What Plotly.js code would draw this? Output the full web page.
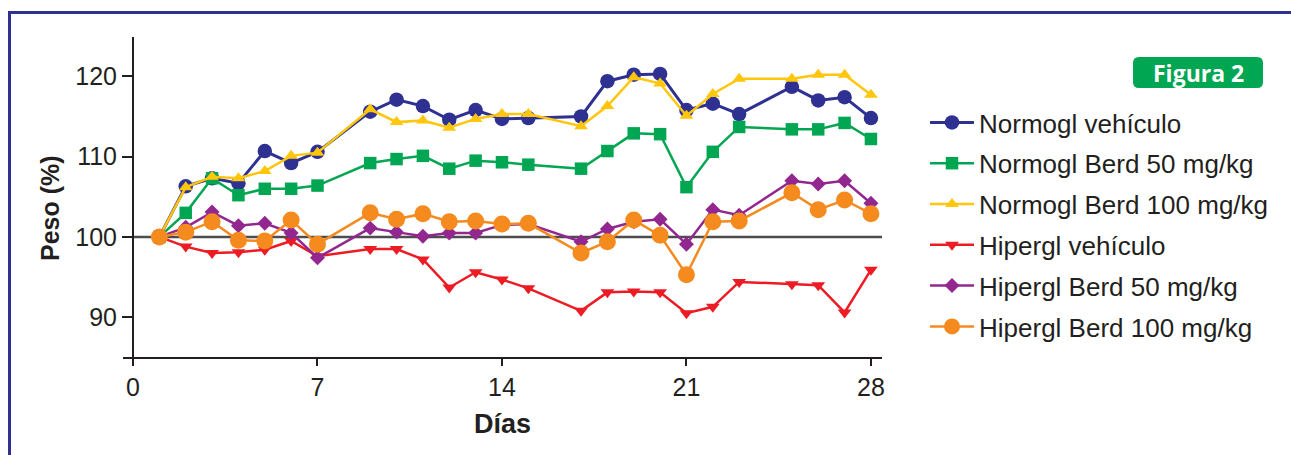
<!DOCTYPE html>
<html>
<head>
<meta charset="utf-8">
<script src="https://cdn.plot.ly/plotly-3.0.1.min.js"></script>
<style>
html,body{margin:0;padding:0;background:#fff;}
#chart{width:1291px;height:455px;}
</style>
</head>
<body>
<div id="chart"></div>
<script>
// ---- data ----
var days = [1,2,3,4,5,6,7,9,10,11,12,13,14,15,17,18,19,20,21,22,23,25,26,27,28];
var normoglVehiculo = [100,106.3,107.3,106.7,110.7,109.2,110.6,115.6,117.1,116.3,114.6,115.8,114.7,114.8,115.0,119.4,120.2,120.3,115.8,116.6,115.3,118.7,117.0,117.4,114.8];
var normoglBerd50 = [100,103.0,107.3,105.2,106.0,106.0,106.4,109.2,109.7,110.1,108.5,109.5,109.3,109.0,108.5,110.7,112.9,112.8,106.2,110.6,113.7,113.4,113.4,114.2,112.2];
var normoglBerd100 = [100,106.2,107.5,107.3,108.2,110.1,110.5,115.9,114.3,114.5,113.6,114.7,115.3,115.3,113.8,116.3,119.9,119.1,115.1,117.8,119.7,119.7,120.2,120.2,117.7];
var hiperglVehiculo = [100,98.8,98.0,98.1,98.4,99.5,97.6,98.5,98.5,97.2,93.7,95.6,94.7,93.6,90.8,93.1,93.2,93.1,90.5,91.3,94.4,94.1,94.0,90.6,95.9];
var hiperglBerd50 = [100,101.2,103.1,101.4,101.7,100.5,97.4,101.1,100.6,100.1,100.5,100.5,101.5,101.6,99.4,101.0,101.9,102.2,99.1,103.4,102.7,107.0,106.6,107.0,104.2];
var hiperglBerd100 = [100,100.6,101.9,99.6,99.5,102.1,99.1,103.0,102.2,102.9,101.9,102.0,101.6,101.7,98.0,99.4,102.1,100.2,95.3,101.9,102.0,105.5,103.4,104.6,102.9];
var seriesNames = ["Normogl vehículo","Normogl Berd 50 mg/kg","Normogl Berd 100 mg/kg","Hipergl vehículo","Hipergl Berd 50 mg/kg","Hipergl Berd 100 mg/kg"];
var xTicks = [0,7,14,21,28];
var yTicks = [90,100,110,120];
var xTitle = "Días";
var yTitle = "Peso (%)";
var badgeText = "Figura 2";

// ---- styles ----
var seriesValues = [normoglVehiculo, normoglBerd50, normoglBerd100, hiperglVehiculo, hiperglBerd50, hiperglBerd100];
var colors = ["#2e3192","#00a651","#ffc60b","#ed1c24","#92278f","#f58a1f"];
var symbols = ["circle","square","triangle-up","triangle-down","diamond","circle"];
var sizes = [14.5,12.5,12,12,11.5,17];
var widths = [3,2.5,2.5,2.5,2.5,2.5];
var FONT = "Liberation Sans, Arial, Helvetica, sans-serif";
var TXT = "#231f20";

var traces = seriesValues.map(function(v,i){
  return {
    x: days, y: v, type: "scatter", mode: "lines+markers",
    name: seriesNames[i], legendgroup: "g"+i,
    line: {color: colors[i], width: widths[i]},
    marker: {color: colors[i], symbol: symbols[i], size: sizes[i], line: {width: 0}},
    cliponaxis: false
  };
});

// plot area geometry (pixels) for paper conversions
var L = 123, R = 882, T = 37, B = 357, W = 1291, H = 455;
function px(p){ return (p - L) / (R - L); }
function py(q){ return (B - q) / (B - T); }
function roundRect(x0,y0,x1,y1,r){
  var rx = r/(R-L), ry = r/(B-T);
  var a = px(x0), b = px(x1), t = py(y0), u = py(y1);
  return "M"+(a+rx)+","+t+" L"+(b-rx)+","+t+" Q"+b+","+t+" "+b+","+(t-ry)+
         " L"+b+","+(u+ry)+" Q"+b+","+u+" "+(b-rx)+","+u+
         " L"+(a+rx)+","+u+" Q"+a+","+u+" "+a+","+(u+ry)+
         " L"+a+","+(t-ry)+" Q"+a+","+t+" "+(a+rx)+","+t+" Z";
}

var layout = {
  width: W, height: H,
  margin: {l: L, r: W - R, t: T, b: H - B},
  paper_bgcolor: "#fff", plot_bgcolor: "rgba(0,0,0,0)",
  font: {family: FONT, color: TXT},
  showlegend: true,
  legend: {
    x: px(925), y: py(99), xanchor: "left", yanchor: "top",
    font: {family: FONT, size: 26, color: TXT},
    traceorder: "grouped", tracegroupgap: 4,
    itemwidth: 44, bgcolor: "rgba(0,0,0,0)"
  },
  xaxis: {
    range: [-0.38, 28.42], tickvals: xTicks, ticktext: xTicks.map(String),
    showline: true, linecolor: TXT, linewidth: 2,
    ticks: "outside", ticklen: 7, tickwidth: 2, tickcolor: TXT,
    tickfont: {family: FONT, size: 25, color: TXT},
    showgrid: false, zeroline: false,
    title: {text: "<b>"+xTitle+"</b>", font: {family: FONT, size: 27, color: TXT}, standoff: 14}
  },
  yaxis: {
    range: [85.05, 124.9], tickvals: yTicks, ticktext: yTicks.map(String),
    anchor: "free", position: px(133),
    showline: true, linecolor: TXT, linewidth: 2,
    ticks: "outside", ticklen: 10, tickwidth: 2, tickcolor: TXT,
    tickfont: {family: FONT, size: 25, color: TXT},
    showgrid: false, zeroline: false
  },
  shapes: [
    {type: "line", xref: "x", yref: "y", x0: 0, x1: 28.42, y0: 100, y1: 100,
     line: {color: "#4d4d4f", width: 2.5}, layer: "below"},
    {type: "path", xref: "paper", yref: "paper",
     path: "M"+px(9.5)+","+py(H+5)+" L"+px(9.5)+","+py(12.5)+" L"+px(W+5)+","+py(12.5),
     line: {color: "#2e3192", width: 3}},
    {type: "path", xref: "paper", yref: "paper",
     path: roundRect(1133,57,1263,88,6), fillcolor: "#00a651", line: {width: 0}}
  ],
  annotations: [
    {xref: "paper", yref: "paper", x: px(50), y: py(208), xanchor: "center", yanchor: "middle",
     text: "<b>"+yTitle+"</b>", showarrow: false, textangle: -90,
     font: {family: FONT, size: 25, color: TXT}},
    {xref: "paper", yref: "paper", x: px(1198), y: py(73), xanchor: "center", yanchor: "middle",
     text: "<b>"+badgeText+"</b>", showarrow: false,
     font: {family: "Open Sans, Noto Sans, sans-serif", size: 23, color: "#ffffff"}}
  ]
};

Plotly.newPlot("chart", traces, layout, {displayModeBar: false, staticPlot: true});
</script>
</body>
</html>
